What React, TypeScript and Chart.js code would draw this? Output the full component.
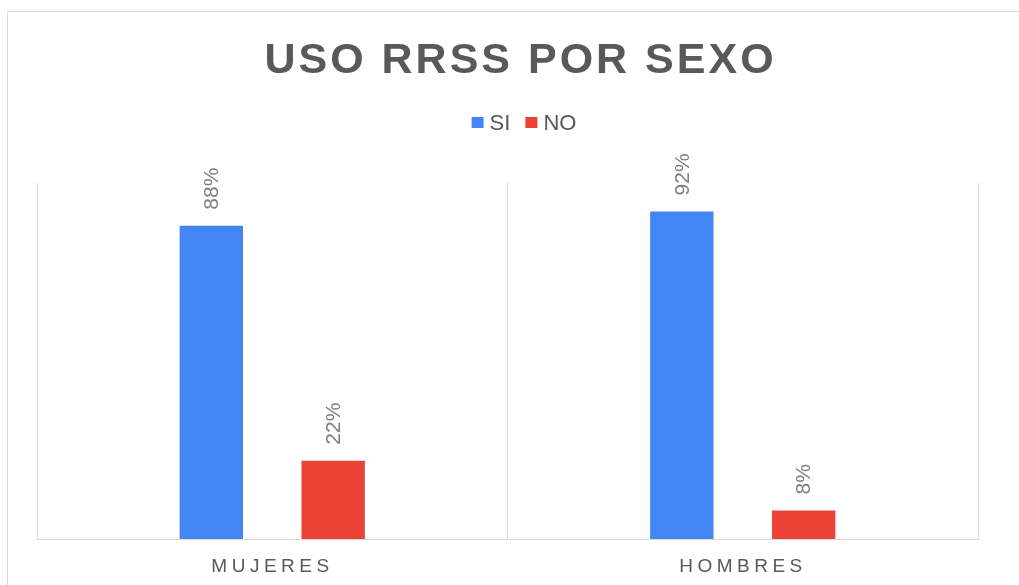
import React, { useEffect, useRef } from "react";
import { Chart, registerables } from "chart.js";

Chart.register(...registerables);

const TITLE = "USO RRSS POR SEXO";
const categories = ["MUJERES", "HOMBRES"];
const seriesNames = ["SI", "NO"];
const siValues = [88, 92];
const noValues = [22, 8];
const seriesColors = ["#4285F4", "#EA4335"];

const FONT = '"Liberation Sans", Arial, sans-serif';

const decorPlugin = {
  id: "decor",
  beforeDraw(chart: any) {
    const ctx = chart.ctx;
    ctx.save();
    ctx.fillStyle = "#ffffff";
    ctx.fillRect(0, 0, chart.width, chart.height);
    ctx.strokeStyle = "#d9d9d9";
    ctx.lineWidth = 1;
    ctx.strokeRect(7.5, 11.5, 1030, 700);
    ctx.restore();
  },
  afterDraw(chart: any) {
    const ctx = chart.ctx;
    ctx.save();
    // Title
    ctx.font = `bold 43px ${FONT}`;
    (ctx as any).letterSpacing = "3px";
    ctx.fillStyle = "#595959";
    ctx.textAlign = "left";
    ctx.textBaseline = "alphabetic";
    const tw = ctx.measureText(TITLE).width - 3;
    ctx.fillText(TITLE, 519 - tw / 2, 73);

    // Legend
    (ctx as any).letterSpacing = "0px";
    ctx.font = `22px ${FONT}`;
    const box = 12;
    const gapBoxText = 6;
    const itemGap = 15;
    const items = chart.data.datasets.map((d: any) => ({
      label: d.label,
      color: d.backgroundColor,
      w: ctx.measureText(d.label).width,
    }));
    let total = 0;
    items.forEach((it: any, i: number) => {
      total += box + gapBoxText + it.w + (i > 0 ? itemGap : 0);
    });
    let x = 524 - total / 2;
    items.forEach((it: any) => {
      ctx.fillStyle = it.color;
      ctx.fillRect(x, 117, box, 11);
      x += box + gapBoxText;
      ctx.fillStyle = "#595959";
      ctx.fillText(it.label, x, 130);
      x += it.w + itemGap;
    });

    // X labels
    const xs = chart.scales.x;
    ctx.font = `19px ${FONT}`;
    (ctx as any).letterSpacing = "4.5px";
    ctx.fillStyle = "#595959";
    chart.data.labels.forEach((lab: string, i: number) => {
      const px = xs.getPixelForValue(i);
      const w = ctx.measureText(lab).width - 4.5;
      ctx.fillText(lab, px - w / 2 - 2, 572);
    });

    // Data labels
    (ctx as any).letterSpacing = "0px";
    ctx.font = `21px ${FONT}`;
    ctx.fillStyle = "#7f7f7f";
    chart.data.datasets.forEach((ds: any, di: number) => {
      const meta = chart.getDatasetMeta(di);
      meta.data.forEach((bar: any, i: number) => {
        ctx.save();
        ctx.translate(bar.x, bar.y - 16);
        ctx.rotate(-Math.PI / 2);
        ctx.textAlign = "left";
        ctx.textBaseline = "middle";
        ctx.fillText(`${ds.data[i]}%`, 0, 1);
        ctx.restore();
      });
    });
    ctx.restore();
  },
};

export default function App() {
  const ref = useRef<HTMLCanvasElement | null>(null);
  useEffect(() => {
    if (!ref.current) return;
    const chart = new Chart(ref.current, {
      type: "bar",
      data: {
        labels: categories,
        datasets: [
          { label: seriesNames[0], data: siValues, backgroundColor: seriesColors[0] },
          { label: seriesNames[1], data: noValues, backgroundColor: seriesColors[1] },
        ],
      },
      options: {
        responsive: false,
        animation: false,
        layout: { padding: { top: 183, left: 37, right: 41, bottom: 46 } },
        datasets: {
          bar: { categoryPercentage: 0.518, barPercentage: 0.52 },
        },
        plugins: {
          legend: { display: false },
          title: { display: false },
          tooltip: { enabled: false },
        },
        scales: {
          x: {
            offset: true,
            ticks: { display: false },
            grid: { display: true, color: "#d9d9d9", offset: true, drawTicks: false, tickLength: 0 },
            border: { display: true, color: "#d9d9d9", width: 1 },
          },
          y: {
            display: false,
            min: 0,
            max: 100,
          },
        },
      },
      plugins: [decorPlugin],
    });
    return () => chart.destroy();
  }, []);
  return (
    <div style={{ position: "fixed", left: 0, top: 0, width: 1019, height: 585, background: "#fff" }}>
      <canvas ref={ref} width={1019} height={585} style={{ display: "block" }} />
    </div>
  );
}
